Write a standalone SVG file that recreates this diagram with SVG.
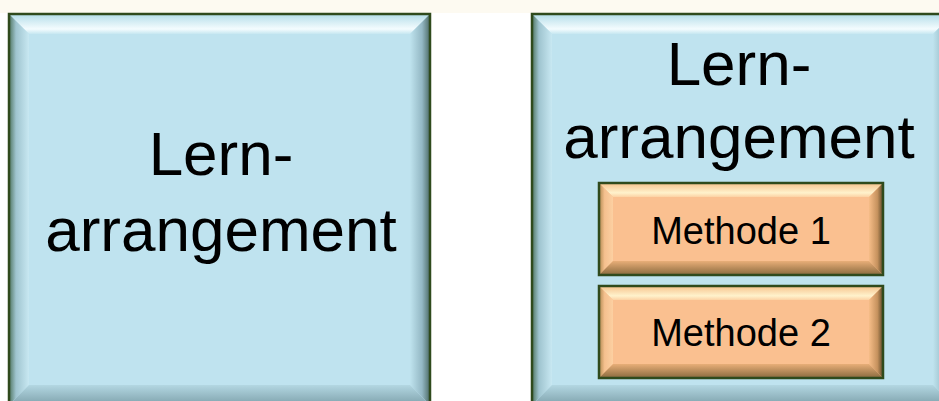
<svg xmlns="http://www.w3.org/2000/svg" width="939" height="401" viewBox="0 0 939 401">
<defs>
<linearGradient id="bTop" x1="0" y1="0" x2="0" y2="1"><stop offset="0" stop-color="#b4dde9"/><stop offset="0.75" stop-color="#f4fcfe"/><stop offset="1" stop-color="#c6e7f1"/></linearGradient>
<linearGradient id="bLeft" x1="0" y1="0" x2="1" y2="0"><stop offset="0" stop-color="#4f7560"/><stop offset="0.35" stop-color="#9fc4cf"/><stop offset="1" stop-color="#c8e8f2"/></linearGradient>
<linearGradient id="bRight" x1="0" y1="0" x2="1" y2="0"><stop offset="0" stop-color="#bfe3ee"/><stop offset="0.6" stop-color="#94b8c4"/><stop offset="1" stop-color="#4d6b66"/></linearGradient>
<linearGradient id="bBot" x1="0" y1="0" x2="0" y2="1"><stop offset="0" stop-color="#b3d7e2"/><stop offset="1" stop-color="#7fa2ac"/></linearGradient>
<linearGradient id="oTop" x1="0" y1="0" x2="0" y2="1"><stop offset="0" stop-color="#f6c28c"/><stop offset="0.7" stop-color="#fff2cc"/><stop offset="1" stop-color="#fcd2a4"/></linearGradient>
<linearGradient id="oLeft" x1="0" y1="0" x2="1" y2="0"><stop offset="0" stop-color="#b0894f"/><stop offset="0.4" stop-color="#f5c08e"/><stop offset="1" stop-color="#fcd0a2"/></linearGradient>
<linearGradient id="oRight" x1="0" y1="0" x2="1" y2="0"><stop offset="0" stop-color="#f6bd88"/><stop offset="0.6" stop-color="#c6925e"/><stop offset="1" stop-color="#5e4a2a"/></linearGradient>
<linearGradient id="oBot" x1="0" y1="0" x2="0" y2="1"><stop offset="0" stop-color="#e8ae78"/><stop offset="1" stop-color="#8a6a3e"/></linearGradient>
</defs>
<style>
.edge{fill:none;stroke:#2f4a1c;stroke-width:2.5}
.big{font-family:"Liberation Sans",Arial,sans-serif;font-size:62px;fill:#000;text-anchor:middle}
.small{font-family:"Liberation Sans",Arial,sans-serif;font-size:38px;fill:#000;text-anchor:middle}
.fb{fill:#bfe3ef}
.fo{fill:#fac090}
</style>
<rect x="0" y="0" width="939" height="401" fill="#ffffff"/>
<rect x="0" y="0" width="939" height="13" fill="#fdfaf1"/>

<g id="box-left">
<rect class="fb" x="9" y="14" width="421" height="391"/>
<polygon points="9,14 430,14 410,34 29,34" fill="url(#bTop)"/>
<polygon points="9,14 29,34 29,385 9,405" fill="url(#bLeft)"/>
<polygon points="430,14 430,405 410,385 410,34" fill="url(#bRight)"/>
<polygon points="9,405 29,385 410,385 430,405" fill="url(#bBot)"/>
<rect class="edge" x="9" y="14" width="421" height="391"/>
<text class="big" x="221" y="175">Lern-</text>
<text class="big" x="221" y="251">arrangement</text>
</g>

<g id="box-right">
<rect class="fb" x="532" y="14" width="421" height="391"/>
<polygon points="532,14 953,14 933,34 552,34" fill="url(#bTop)"/>
<polygon points="532,14 552,34 552,385 532,405" fill="url(#bLeft)"/>
<polygon points="953,14 953,405 933,385 933,34" fill="url(#bRight)"/>
<polygon points="532,405 552,385 933,385 953,405" fill="url(#bBot)"/>
<rect class="edge" x="532" y="14" width="421" height="391"/>
<text class="big" x="739" y="85">Lern-</text>
<text class="big" x="739" y="158">arrangement</text>
</g>

<g id="methode-1">
<rect class="fo" x="599" y="183" width="284" height="92"/>
<polygon points="599,183 883,183 869,197 613,197" fill="url(#oTop)"/>
<polygon points="599,183 613,197 613,261 599,275" fill="url(#oLeft)"/>
<polygon points="883,183 883,275 869,261 869,197" fill="url(#oRight)"/>
<polygon points="599,275 613,261 869,261 883,275" fill="url(#oBot)"/>
<rect class="edge" x="599" y="183" width="284" height="92"/>
<text class="small" x="741" y="244">Methode 1</text>
</g>

<g id="methode-2">
<rect class="fo" x="599" y="286" width="284" height="92"/>
<polygon points="599,286 883,286 869,300 613,300" fill="url(#oTop)"/>
<polygon points="599,286 613,300 613,364 599,378" fill="url(#oLeft)"/>
<polygon points="883,286 883,378 869,364 869,300" fill="url(#oRight)"/>
<polygon points="599,378 613,364 869,364 883,378" fill="url(#oBot)"/>
<rect class="edge" x="599" y="286" width="284" height="92"/>
<text class="small" x="741" y="346">Methode 2</text>
</g>

<g id="connectors"/>
</svg>
